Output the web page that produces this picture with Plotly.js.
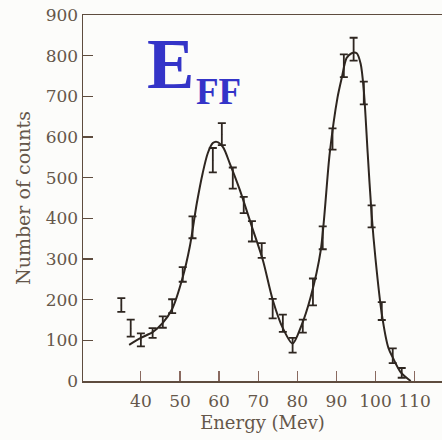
<!DOCTYPE html>
<html><head><meta charset="utf-8">
<script src="https://cdn.plot.ly/plotly-3.0.1.min.js"></script>
<style>html,body{margin:0;padding:0;background:#fcfcfa;}</style>
</head><body>
<div id="chart" style="width:442px;height:440px;"></div>
<script>
// measured points (energy in MeV, counts, half error)
var energy = [35, 37.4, 40, 43, 45.6, 48, 50.7, 53.2, 58.4, 60.7, 63.5, 66.3, 68.4, 70.9, 73.7, 76.3, 78.8, 81.4, 84, 86.5, 89, 91.9, 94.4, 97, 99, 101.6, 104.4, 106.7];
var counts = [187, 130, 101, 118, 145, 184, 262, 378, 543, 607, 499, 433, 368, 321, 178, 142, 88, 135, 219, 352, 595, 775, 816, 708, 405, 172, 62, 20];
var errors = [17, 21, 16, 12, 14, 17, 18, 27, 30, 27, 26, 20, 25, 18, 24, 21, 18, 16, 33, 28, 26, 28, 28, 28, 27, 22, 18, 12];
// fitted curve as drawn
var curveE = [37, 40, 43, 45.6, 48, 50.7, 52.5, 54.3, 55.8, 57.1, 58.4, 59.4, 61, 62.7, 65.3, 68.4, 71.2, 73.7, 76.3, 78.8, 81, 83.4, 86, 88.3, 90.3, 91.4, 92.6, 93.9, 95.2, 96.2, 97, 98, 99, 100, 101.6, 103.3, 104.4, 106.4, 109];
var curveC = [89, 106, 120, 143, 177, 255, 330, 437, 511, 560, 585, 588, 575, 536, 470, 379, 297, 200, 130, 92, 135, 206, 322, 561, 698, 747, 794, 806, 806, 780, 715, 560, 410, 300, 165, 81, 58, 22, 0];
var xTicks = [40, 50, 60, 70, 80, 90, 100, 110];
var xTickText = ["40", "50", "60", "70", "80", "90", "100", "110"];
var yTicks = [0, 100, 200, 300, 400, 500, 600, 700, 800, 900];

var ink = '#2e2620';
var txt = '#65574a';
var axc = '#5e4c3e';

var traces = [
  {x: curveE, y: curveC, type: 'scatter', mode: 'lines',
   line: {color: ink, width: 2, shape: 'spline', smoothing: 0.8}, hoverinfo: 'skip'},
  {x: energy, y: counts, type: 'scatter', mode: 'markers',
   marker: {size: 1, color: ink},
   error_y: {type: 'data', array: errors, visible: true, color: ink, thickness: 1.8, width: 4}}
];

var font = {family: 'DejaVu Serif, serif', size: 17, color: txt};
var layout = {
  width: 442, height: 440,
  margin: {l: 83, r: 0, t: 15, b: 59},
  paper_bgcolor: '#fcfcfa', plot_bgcolor: '#fcfcfa',
  showlegend: false,
  font: font,
  xaxis: {range: [25.2, 117], tickvals: xTicks, ticktext: xTickText,
    ticks: 'inside', ticklen: 10, tickwidth: 1.2, tickcolor: '#8a6a60',
    showline: true, linecolor: axc, linewidth: 1.5, mirror: true,
    showgrid: false, zeroline: false, ticklabelstandoff: 4,
    tickfont: {family: 'DejaVu Serif, serif', size: 17, color: txt},
    title: {text: 'Energy (Mev)', font: {family: 'DejaVu Serif, serif', size: 18, color: txt}, standoff: 6}},
  yaxis: {range: [0, 900], tickvals: yTicks,
    ticks: 'inside', ticklen: 10, tickwidth: 1.2, tickcolor: axc,
    showline: true, linecolor: axc, linewidth: 1.5, mirror: false,
    showgrid: false, zeroline: false,
    tickfont: {family: 'DejaVu Serif, serif', size: 17, color: txt},
    title: {text: 'Number of counts', font: {family: 'DejaVu Serif, serif', size: 19, color: txt}, standoff: 10}},
  annotations: [
    {text: '<b>E</b>', xref: 'paper', yref: 'paper', x: 0.172, y: 0.865, xanchor: 'left', yanchor: 'middle',
     showarrow: false, font: {family: 'Liberation Serif, serif', size: 71, color: '#3434c8'}},
    {text: '<b>FF</b>', xref: 'paper', yref: 'paper', x: 0.31, y: 0.79, xanchor: 'left', yanchor: 'middle',
     showarrow: false, font: {family: 'Liberation Serif, serif', size: 37, color: '#3434c8'}}
  ]
};
Plotly.newPlot('chart', traces, layout, {displayModeBar: false, staticPlot: true});
</script>
</body></html>
